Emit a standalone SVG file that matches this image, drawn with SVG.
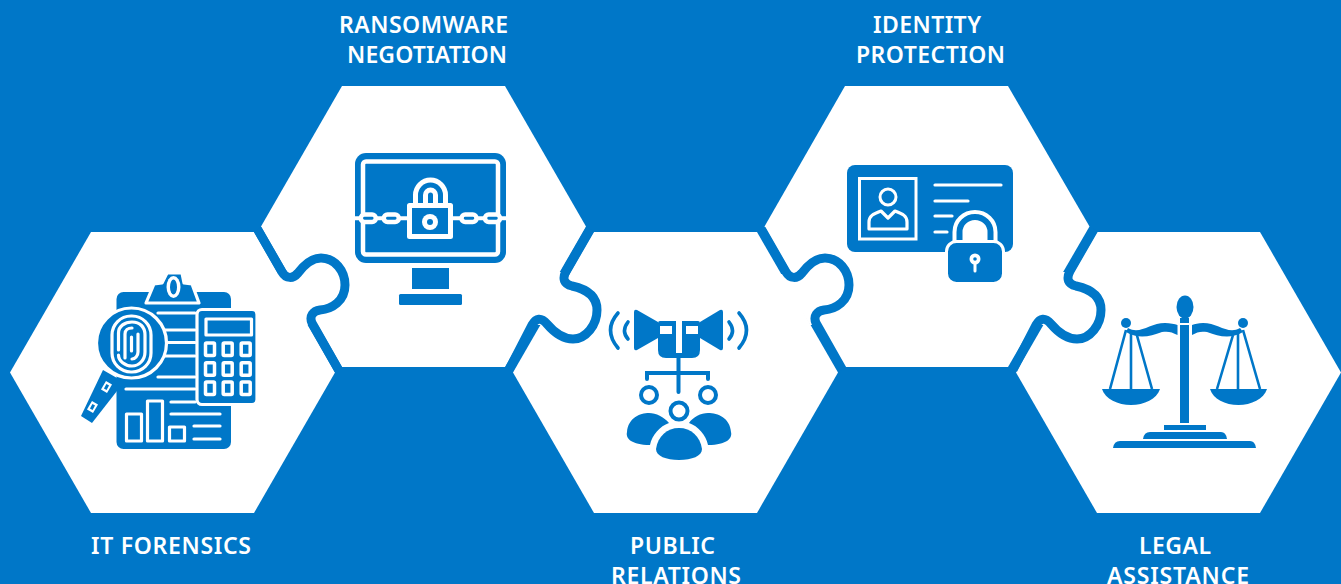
<svg xmlns="http://www.w3.org/2000/svg" width="1341" height="584" viewBox="0 0 1341 584">
<style>
.bg{fill:#0077c8}.hex{fill:#fff}
.conn{fill:#fff;stroke:#0077c8;stroke-width:9;stroke-linejoin:round}
.b{fill:#0077c8}.w{fill:#fff}
.wl{fill:none;stroke:#fff;stroke-width:3.2;stroke-linecap:round;stroke-linejoin:round}
.bw{fill:#0077c8;stroke:#fff;stroke-width:3.2;stroke-linejoin:round}
.bl{fill:none;stroke:#0077c8;stroke-width:3.2;stroke-linecap:round;stroke-linejoin:round}
.t{font-family:"Noto Sans","Open Sans",sans-serif;font-weight:600;font-size:23px;fill:#fff}
</style>
<defs>
<path id="c1" class="conn" d="M257.500 229.250L282 272C286 279 293 279 298 273C304 265 311 258 321 258C335 258 345 271 345 285C345 301 332 309 320 310C313 311 309 316 312 323L338.600 370"/>
<path id="c2" class="conn" d="M590 229.250L566 271C562 279 564 284 572 286C586 289 597 296 597 310C597 325 586 339 573 339C562 339 553 331 547 324C541 317 536 318 532 325L509 369.750"/>
<polygon id="p1" class="w" points="274,274 283,274 296,278 325,325 306,325"/>
<polygon id="p2" class="w" points="556,272 563,272 568,284 545,325 528,325"/>
</defs>
<rect class="bg" width="1341" height="584"/>
<g id="hexagons">
<polygon class="hex" points="91,232 254,232 335,372.500 254,513 91,513 10,372.500"/>
<polygon class="hex" points="342,86 505,86 586,226.500 505,367 342,367 261,226.500"/>
<polygon class="hex" points="594,232 757,232 838,372.500 757,513 594,513 513,372.500"/>
<polygon class="hex" points="845,86 1008,86 1089.500,226.500 1008,367 845,367 764.500,226.500"/>
<polygon class="hex" points="1097,232 1260,232 1341,372.500 1260,513 1097,513 1016,372.500"/>
</g>
<g id="connectors">
<use href="#p1"/><use href="#c1"/>
<use href="#p2"/><use href="#c2"/>
<use href="#p1" x="504"/><use href="#c1" x="504"/>
<use href="#p2" x="504"/><use href="#c2" x="504"/>
</g>

<g id="it-forensics">
<rect class="b" x="116.500" y="292" width="114.500" height="157" rx="7"/>
<path class="bw" d="M167 273H182L184 283L192 284L199 303H146L154 284L162 283Z"/>
<ellipse class="w" cx="173.500" cy="287" rx="7" ry="11"/><ellipse class="b" cx="173.500" cy="287" rx="3.500" ry="7.500"/>
<path class="wl" d="M158 313H195M163 330H195M166 342.500H195M163 356H195M158 377H195M126 389H195M171 402H195M171 414H220M194 426H220M194 439H220"/>
<rect class="bw" x="197" y="309.500" width="60" height="95" rx="5"/>
<rect class="bw" x="206" y="319" width="45.500" height="16"/>
<g class="bw" style="stroke-width:3.500"><rect x="205.500" y="343" width="9" height="12.500" rx="1"/><rect x="223.200" y="343" width="9" height="12.500" rx="1"/><rect x="241.200" y="343" width="9" height="12.500" rx="1"/><rect x="205.500" y="362.700" width="9" height="12.500" rx="1"/><rect x="223.200" y="362.700" width="9" height="12.500" rx="1"/><rect x="241.200" y="362.700" width="9" height="12.500" rx="1"/><rect x="205.500" y="382" width="9" height="12.500" rx="1"/><rect x="223.200" y="382" width="9" height="12.500" rx="1"/><rect x="241.200" y="382" width="9" height="12.500" rx="1"/></g>
<rect class="bw" x="126.500" y="414" width="15" height="27"/><rect class="bw" x="147.500" y="401" width="15" height="40"/><rect class="bw" x="169.500" y="427" width="15" height="14"/>
<path class="bw" d="M103 370L124 382L92 423L81 416Z" style="stroke:none"/>
<rect class="w" x="-5" y="-3.500" width="10" height="7" transform="translate(106.500 387) rotate(-60)"/>
<rect class="b" x="-2.500" y="-1.500" width="5" height="3" transform="translate(106.500 387) rotate(-60)"/>
<rect class="w" x="-5" y="-3.500" width="10" height="7" transform="translate(92.500 407) rotate(-60)"/>
<rect class="b" x="-2.500" y="-1.500" width="5" height="3" transform="translate(92.500 407) rotate(-60)"/>
<circle class="bw" cx="131.500" cy="343" r="35"/>
<rect class="wl" x="112" y="316" width="39" height="56" rx="19"/>
<path class="wl" d="M118.500 350V333C118.500 326 125 322 132 322C140 322 145 327 145 335V352C145 360 139 366 132 366C125 366 118.500 361 118.500 355M125 358V334C125 330 128 328 132 328M138 334V352C138 356 135 359 132 359M131.500 337V351"/>
</g>

<g id="ransomware-negotiation">
<rect class="b" x="355" y="153" width="151" height="110" rx="11"/>
<rect x="363" y="161.500" width="135" height="93" rx="3" fill="none" stroke="#fff" stroke-width="4.500"/>
<rect class="b" x="412" y="268" width="37" height="21"/>
<rect class="b" x="399" y="294" width="63" height="11" rx="1.500"/>
<path d="M355 218.300H506" fill="none" stroke="#fff" stroke-width="4"/>
<g fill="#0077c8" stroke="#fff" stroke-width="4.500"><rect x="360.800" y="214.500" width="15" height="7.500" rx="3.700"/><rect x="383.800" y="214.500" width="15" height="7.500" rx="3.700"/><rect x="461.500" y="214.500" width="15" height="7.500" rx="3.700"/><rect x="485" y="214.500" width="15" height="7.500" rx="3.700"/></g>
<path d="M415.500 206V195A15 15 0 0 1 445.500 195V206" fill="none" stroke="#fff" stroke-width="5"/>
<path d="M425.500 206V195A5 5 0 0 1 435.500 195V206" fill="none" stroke="#fff" stroke-width="5"/>
<rect x="409.500" y="205.500" width="41" height="31" fill="#0077c8" stroke="#fff" stroke-width="5" stroke-linejoin="round"/>
<circle class="w" cx="430" cy="222" r="8"/><circle class="b" cx="430" cy="222" r="3"/>
</g>

<g id="public-relations">
<path class="b" d="M634 312Q634 309 637 310L658 322V338L637 350Q634 351 634 348Z"/>
<path class="b" d="M723 312Q723 309 720 310L700 322V338L720 350Q723 351 723 348Z"/>
<path class="b" d="M658 323Q658 321 660 321H676V353H682V321H698Q700 321 700 323V350Q700 358 692 358H666Q658 358 658 350Z"/>
<rect class="w" x="660" y="326" width="12" height="8"/><rect class="w" x="686" y="326" width="12" height="8"/>
<path fill="none" stroke="#0077c8" stroke-width="4" stroke-linecap="round" d="M678.500 358V392M647 379V373H708V379"/>
<g fill="none" stroke="#0077c8" stroke-width="3.600" stroke-linecap="round"><path d="M618 313Q603 330 618 348M628 322Q621 331 628 339M739 313Q754 330 739 348M729 322Q736 331 729 339"/></g>
<g fill="#fff" stroke="#0077c8" stroke-width="4"><circle cx="649" cy="395" r="8"/><circle cx="708" cy="395" r="8"/><circle cx="679" cy="411" r="8.500"/></g>
<path class="b" d="M627 432C628 418 640 413 649 413C656 413 664 417 669 423C660 426 652 435 650 445C640 445 635 443 631 441C628 439 626 436 627 432Z"/>
<path class="b" d="M731 432C730 418 718 413 708 413C701 413 693 417 689 423C698 426 706 435 708 445C718 445 723 443 727 441C730 439 732 436 731 432Z"/>
<path class="b" d="M656 449C658 436 667 428 679 428C691 428 700 436 702 449C702 456 692 460 679 460C666 460 656 456 656 449Z"/>
</g>

<g id="identity-protection">
<rect class="b" x="847" y="165" width="166" height="87" rx="8"/>
<rect x="859.500" y="178.500" width="56.500" height="60.500" fill="none" stroke="#fff" stroke-width="3"/>
<circle cx="888" cy="197" r="8" fill="none" stroke="#fff" stroke-width="3"/>
<path class="wl" d="M869 229V222C869 216 873 214 881 211L888 218L895 211C903 214 907 216 907 222V229Z"/>
<path class="wl" d="M935 185H1001M935 201H968M935 216H952M935 232H947"/>
<path d="M959.500 243V232A15.500 15 0 0 1 990.500 232V243" fill="#fff" stroke="#fff" stroke-width="14"/>
<path d="M959.500 243V232A15.500 15 0 0 1 990.500 232V243" fill="#fff" stroke="#0077c8" stroke-width="6"/>
<rect x="946.500" y="241.500" width="57" height="42" rx="10" class="b" stroke="#fff" stroke-width="3"/>
<circle class="w" cx="975" cy="259" r="5.500"/><circle class="b" cx="975" cy="259" r="1.800"/>
<rect class="w" x="973.500" y="262" width="3" height="10.500" rx="1.500"/>
</g>

<g id="legal-assistance">
<ellipse class="b" cx="1185" cy="307" rx="8.500" ry="11.500"/>
<rect class="b" x="1180" y="318" width="9" height="5"/>
<rect class="b" x="1180" y="325" width="9" height="98"/>
<path class="b" d="M1128 328C1140 335 1150 323 1165 323C1170 323 1175 324 1177.500 325V335C1172 332 1168 331 1162 332C1150 336 1140 340 1126 332Z"/>
<path class="b" d="M1240 328C1228 335 1218 323 1203 323C1198 323 1195 324 1192 325V335C1197 332 1201 331 1207 332C1219 336 1229 340 1243 332Z"/>
<circle class="b" cx="1126" cy="323" r="5"/><circle class="b" cx="1243" cy="323" r="5"/>
<g fill="none" stroke="#0077c8" stroke-width="2.600"><path d="M1126 330L1110 389M1131 330V389M1136 332L1152 389M1243 330L1260 389M1238 330V389M1233 335L1217 389"/></g>
<path class="b" d="M1102 389H1160C1157 399 1144 405 1131 405C1118 405 1105 399 1102 389Z"/>
<path class="b" d="M1210 389H1267C1264 399 1251 405 1238.500 405C1225 405 1213 399 1210 389Z"/>
<rect class="b" x="1164" y="425" width="42" height="5"/>
<path class="b" d="M1143 439Q1144 432 1150 432H1221Q1226 432 1227 439Z"/>
<path class="b" d="M1113 448Q1114 441 1120 441H1250Q1255 441 1256 448Z"/>
</g>

<g id="labels">
<text class="t" x="339" y="33" textLength="169">RANSOMWARE</text>
<text class="t" x="347" y="63" textLength="160">NEGOTIATION</text>
<text class="t" x="873" y="33" textLength="108">IDENTITY</text>
<text class="t" x="856" y="63" textLength="149">PROTECTION</text>
<text class="t" x="91" y="554" textLength="160">IT FORENSICS</text>
<text class="t" x="630" y="554" textLength="85">PUBLIC</text>
<text class="t" x="611" y="584" textLength="130">RELATIONS</text>
<text class="t" x="1139" y="554" textLength="72">LEGAL</text>
<text class="t" x="1107" y="584" textLength="142">ASSISTANCE</text>
</g>
</svg>
